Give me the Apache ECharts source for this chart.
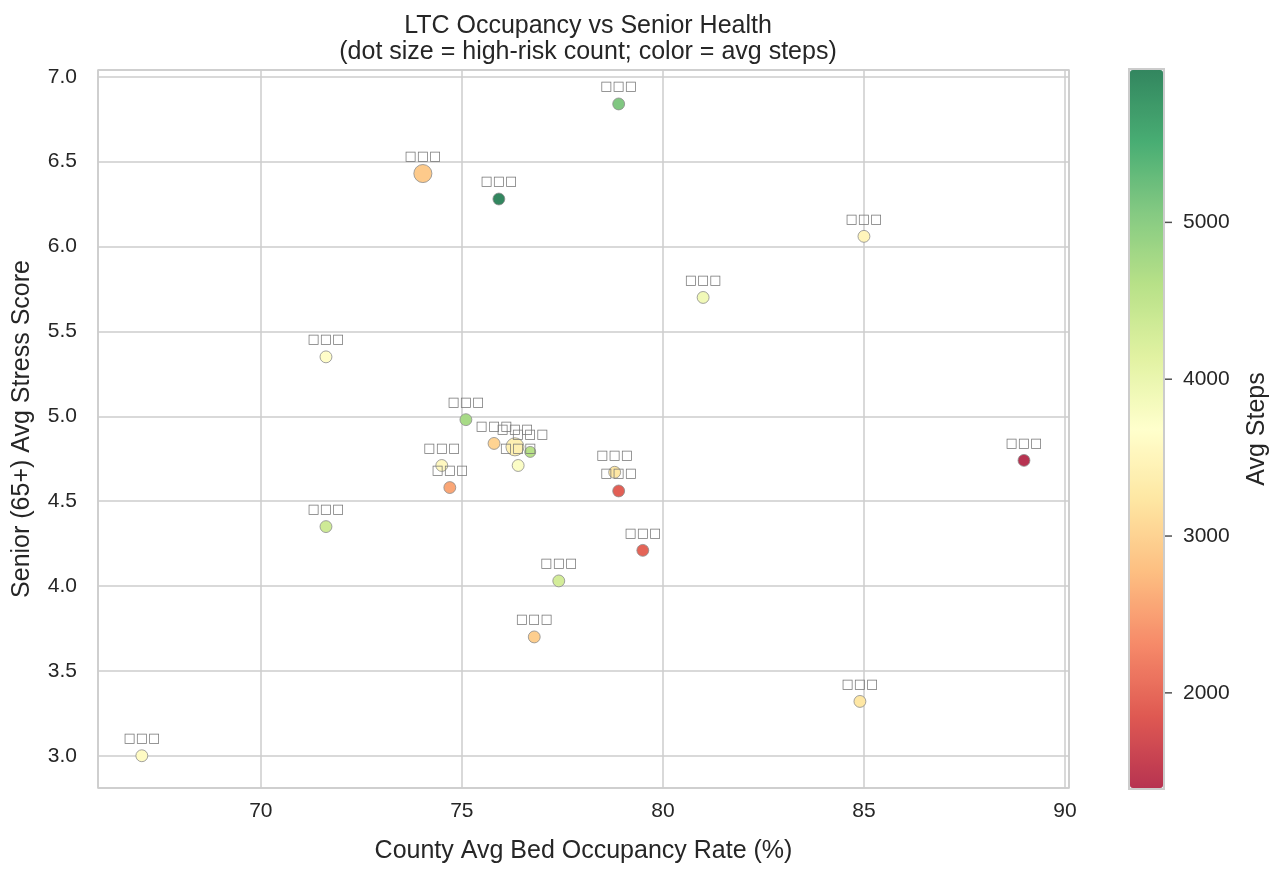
<!DOCTYPE html>
<html>
<head>
<meta charset="utf-8">
<script src="https://cdn.jsdelivr.net/npm/echarts@6/dist/echarts.min.js"></script>
<style>
  html, body { margin: 0; padding: 0; background: #fff; }
  #main { width: 1282px; height: 875px; }
</style>
</head>
<body>
<div id="main"></div>
<script>
// county labels came out as missing-glyph boxes in the source
var counties = ['□□□', '□□□', '□□□', '□□□', '□□□', '□□□', '□□□', '□□□', '□□□', '□□□', '□□□',
                '□□□', '□□□', '□□□', '□□□', '□□□', '□□□', '□□□', '□□□', '□□□', '□□□', '□□□'];
var occupancy = [78.9, 74.03, 75.92, 85.0, 81.0, 71.62, 75.1, 75.8, 76.32, 76.7, 76.4,
                 74.5, 74.7, 78.8, 78.9, 88.98, 71.62, 79.5, 77.41, 76.8, 84.9, 67.04];
var stress = [6.84, 6.43, 6.28, 6.06, 5.70, 5.35, 4.98, 4.84, 4.82, 4.79, 4.71,
              4.71, 4.58, 4.67, 4.56, 4.74, 4.35, 4.21, 4.03, 3.70, 3.32, 3.00];
var avgSteps = [5100, 2900, 5978, 3500, 3900, 3650, 4750, 3000, 3400, 4600, 3750,
                3550, 2550, 3250, 1900, 1387, 4350, 1950, 4300, 2950, 3250, 3600];
var highRisk = [13, 30, 13, 13, 13, 13, 13, 13, 30, 11, 13,
                13, 13, 13, 13, 13, 13, 13, 13, 13, 13, 13];
var colorTicks = [2000, 3000, 4000, 5000];

// RdYlGn, blended with white at alpha 0.8
var rdylgn = ['#b73351', '#df5952', '#f68a69', '#fdbe81', '#fee6a2', '#ffffcc',
              '#e1f2a2', '#b8e188', '#85ca82', '#48ad73', '#33865f'];

var points = [];
for (var i = 0; i < occupancy.length; i++) {
    points.push([occupancy[i], stress[i], avgSteps[i], highRisk[i], counties[i]]);
}
// colorbar tick marks sit on the right edge of the bar
var tickMarks = colorTicks.map(function (v) { return [1, v]; });

var font = 'Liberation Sans, Arial, sans-serif';
var textColor = '#262626';
var gridColor = '#cccccc';

var chart = echarts.init(document.getElementById('main'));
chart.setOption({
    backgroundColor: '#fff',
    animation: false,
    title: {
        text: 'LTC Occupancy vs Senior Health\n(dot size = high-risk count; color = avg steps)',
        left: 583,
        top: 8,
        textAlign: 'center',
        textStyle: {
            fontFamily: font,
            fontSize: 25,
            fontWeight: 'normal',
            color: textColor,
            lineHeight: 26
        }
    },
    grid: [
        {
            left: 98, right: 213, top: 70, bottom: 87,
            containLabel: false,
            outerBoundsMode: 'none',
            show: true,
            borderColor: gridColor,
            borderWidth: 1.5
        },
        {
            left: 1129, top: 69, width: 35, height: 720,
            containLabel: false,
            outerBoundsMode: 'none',
            show: true,
            borderColor: gridColor,
            borderWidth: 2,
            z: 10,
            backgroundColor: 'transparent'
        }
    ],
    xAxis: [
        {
            type: 'value',
            gridIndex: 0,
            min: 65.95,
            max: 90.1,
            splitNumber: 5,
            name: 'County Avg Bed Occupancy Rate (%)',
            nameLocation: 'middle',
            nameGap: 51,
            nameTextStyle: { fontFamily: font, fontSize: 25, color: textColor },
            axisLine: { show: false },
            axisTick: { show: false },
            axisLabel: {
                fontFamily: font, fontSize: 21, color: textColor, margin: 13,
                showMinLabel: false, showMaxLabel: false
            },
            splitLine: { show: true, lineStyle: { color: gridColor, width: 1.5 } }
        },
        {
            type: 'value',
            gridIndex: 1,
            min: 0,
            max: 1,
            show: false
        }
    ],
    yAxis: [
        {
            type: 'value',
            gridIndex: 0,
            min: 2.81,
            max: 7.04,
            splitNumber: 8,
            name: 'Senior (65+) Avg Stress Score',
            nameLocation: 'middle',
            nameGap: 63,
            nameTextStyle: { fontFamily: font, fontSize: 25, color: textColor },
            axisLine: { show: false },
            axisTick: { show: false },
            axisLabel: {
                fontFamily: font, fontSize: 21, color: textColor, margin: 21,
                formatter: function (v) { return v.toFixed(1); },
                showMinLabel: false, showMaxLabel: false
            },
            splitLine: { show: true, lineStyle: { color: gridColor, width: 1.5 } }
        },
        {
            type: 'value',
            gridIndex: 1,
            position: 'right',
            min: 1387,
            max: 5978,
            name: 'Avg Steps',
            nameLocation: 'middle',
            nameRotate: 90,
            nameGap: 81,
            nameTextStyle: { fontFamily: font, fontSize: 25, color: textColor },
            axisLine: { show: false },
            axisTick: { show: false },
            axisLabel: {
                fontFamily: font, fontSize: 21, color: textColor, margin: 19,
                customValues: colorTicks,
                formatter: function (v) { return String(v); }
            },
            splitLine: { show: false }
        }
    ],
    visualMap: {
        type: 'continuous',
        seriesIndex: 0,
        dimension: 2,
        min: 1387,
        max: 5978,
        left: 1130,
        top: 70,
        itemWidth: 33,
        itemHeight: 718,
        padding: 0,
        calculable: false,
        hoverLink: false,
        text: null,
        inRange: { color: rdylgn }
    },
    series: [
        {
            type: 'scatter',
            xAxisIndex: 0,
            yAxisIndex: 0,
            data: points,
            symbolSize: function (v) { return Math.sqrt(v[3]) * 3.3; },
            itemStyle: {
                borderColor: '#8c8c8c',
                borderWidth: 0.8,
                opacity: 1
            },
            label: {
                show: true,
                position: 'inside',
                formatter: function (p) { return p.data[4]; },
                fontFamily: 'DejaVu Sans',
                fontSize: 13,
                color: '#777777'
            },
            labelLayout: { dy: -17, hideOverlap: false }
        },
        {
            type: 'scatter',
            xAxisIndex: 1,
            yAxisIndex: 1,
            data: tickMarks,
            symbol: 'rect',
            symbolSize: [7, 1.5],
            symbolOffset: [4.5, 0],
            clip: false,
            silent: true,
            z: 20,
            itemStyle: { color: textColor }
        }
    ]
});
</script>
</body>
</html>
